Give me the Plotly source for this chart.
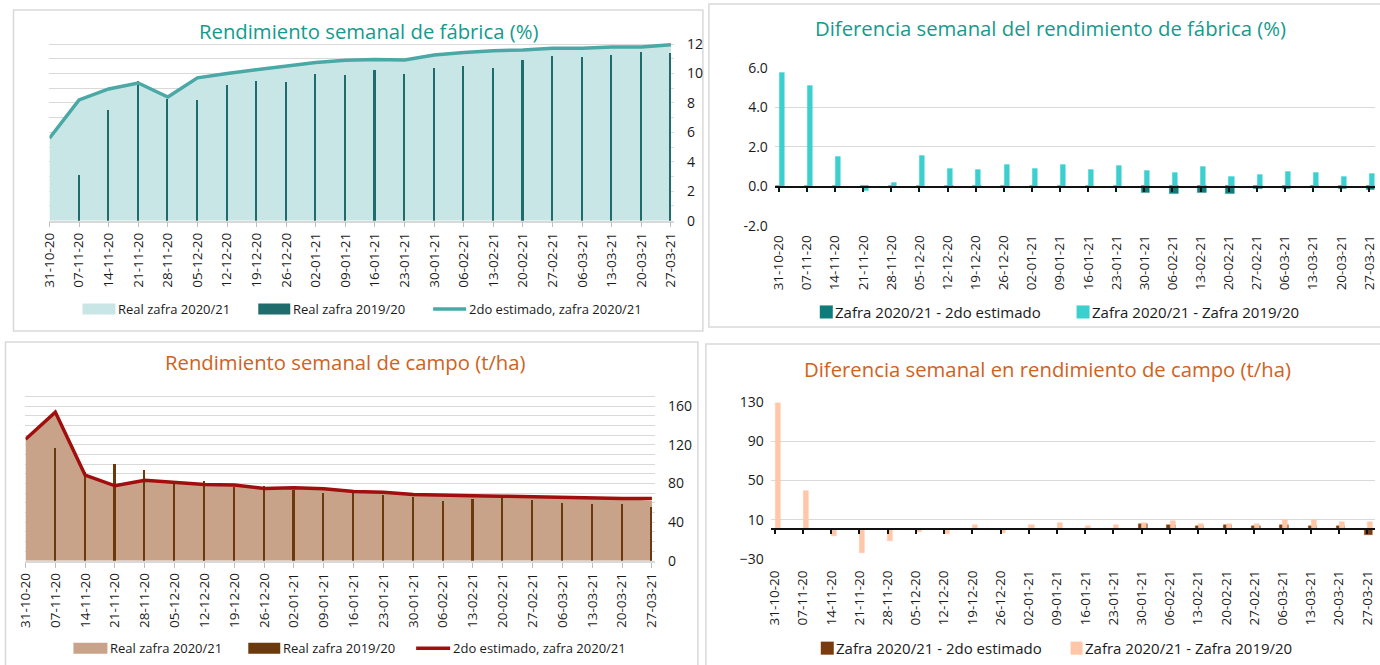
import plotly.graph_objects as go

W, H = 1380, 665

weeks = ['31-10-20', '07-11-20', '14-11-20', '21-11-20', '28-11-20', '05-12-20', '12-12-20',
         '19-12-20', '26-12-20', '02-01-21', '09-01-21', '16-01-21', '23-01-21', '30-01-21',
         '06-02-21', '13-02-21', '20-02-21', '27-02-21', '06-03-21', '13-03-21', '20-03-21',
         '27-03-21']

# Rendimiento semanal de fábrica (%)
fab_real_2021 = [5.6, 8.2, 8.95, 9.35, 8.4, 9.7, 10.0, 10.25, 10.45, 10.75, 10.9, 10.95, 10.92,
                 11.2, 11.35, 11.5, 11.55, 11.7, 11.7, 11.78, 11.78, 11.9]
fab_real_1920 = [None, 3.1, 7.5, 9.5, 8.25, 8.2, 9.2, 9.5, 9.45, 9.95, 9.9, 10.25, 10.0,
                 10.35, 10.5, 10.4, 10.95, 11.2, 11.1, 11.25, 11.45, 11.38]
fab_est_2021 = [5.6, 8.2, 8.95, 9.35, 8.4, 9.7, 10.0, 10.25, 10.45, 10.75, 10.9, 10.95, 10.92,
                11.25, 11.42, 11.55, 11.6, 11.72, 11.72, 11.8, 11.8, 11.95]

# Diferencia semanal del rendimiento de fábrica (%)
fab_dif_est = [0, 0, 0, 0, 0, 0, 0, 0, 0, 0, 0, 0, 0,
               -0.35, -0.42, -0.34, -0.39, -0.15, -0.15, -0.1, -0.15, -0.2]
fab_dif_1920 = [5.73, 5.10, 1.46, -0.25, 0.17, 1.51, 0.87, 0.8, 1.05, 0.88, 1.07, 0.83, 1.02,
                0.76, 0.68, 0.98, 0.46, 0.56, 0.71, 0.66, 0.46, 0.61]

# Rendimiento semanal de campo (t/ha)
campo_real_2021 = [125.8, 154, 88.7, 77.7, 83.5, 80.8, 79, 78.4, 74.9, 75.6, 74.6, 71.8, 71.1,
                   68.7, 67.7, 67.4, 67, 66.3, 65.6, 65.6, 64.6, 62.0]
campo_real_1920 = [None, 116.8, 92, 100.3, 93.8, 81, 82.5, 76.6, 77.7, 73.2, 70.4, 69.8, 68.7,
                   66.3, 62.2, 63.9, 65, 62.9, 59.5, 58.8, 58.8, 55.7]
campo_est_2021 = [125.8, 154, 88.7, 77.7, 83.5, 80.8, 79, 78.4, 74.9, 75.6, 74.6, 71.8, 71.1,
                  68.7, 67.7, 67.4, 67, 66.3, 65.6, 65.6, 64.6, 64.6]

# Diferencia semanal en rendimiento de campo (t/ha)
campo_dif_est = [0, 0, 0, 0, 0, 0, 0, 0, 0, 0, 0, 0, 0,
                 5, 4.5, 3.5, 4.5, 3.5, 4.5, 3.5, 3, -5.5]
campo_dif_1920 = [128.6, 38.8, -7, -24.3, -12, -2.5, -5, 4, -4, 4, 6, 3, 4,
                  6, 8, 5.3, 5, 5.3, 9, 9, 7.3, 7.3]

idx = list(range(len(weeks)))

FONT = "Open Sans"
TEAL_T = "#139b8d"
ORANGE_T = "#d0621c"
GRID = "#d9d9d9"
TXT = "#1a1a1a"


# map reference-picture pixels to page pixels (calibrated against the rendered output)
def FX(px):
    return (px - 9.5) / 0.990


def FY(py):
    return (py - 12.1) / 0.968


def clamp(v):
    return min(1.0, max(0.0, v))


def X(px):
    return FX(px) / W


def Y(py):
    return 1 - FY(py) / H


def xgeom(cat0, cat21, left, right):
    s0, s21 = FX(cat0), FX(cat21)
    sp = (s21 - s0) / 21
    L, R = max(0.0, FX(left)), min(float(W), FX(right))
    return [L / W, R / W], [(L - s0) / sp, (R - s0) / sp]


def ygeom(va, pa, vb, pb, bottom, top):
    fa, fb = FY(pa), FY(pb)
    per = (fa - fb) / (vb - va)  # px per unit (screen y grows downward)
    B, T = FY(bottom), FY(top)
    v_bot = va - (B - fa) / per
    v_top = va + (fa - T) / per
    return [clamp(1 - B / H), clamp(1 - T / H)], [v_bot, v_top]


d1x, r1x = xgeom(49, 671, 49, 674)
d1y, r1y = ygeom(0, 222, 12, 46, 222, 43.8)
d2x, r2x = xgeom(779, 1370, 775, 1380)
d2y, r2y = ygeom(-2, 227, 6, 70, 227, 70)
d3x, r3x = xgeom(25, 652, 25, 655)
d3y, r3y = ygeom(0, 561, 160, 407, 561, 387.75)
d4x, r4x = xgeom(775, 1368, 771, 1378)
d4y, r4y = ygeom(-30, 559, 130, 403, 559, 403)

fig = go.Figure()

# ---------- Panel 1 ----------
fig.add_trace(go.Scatter(x=idx, y=fab_real_2021, fill='tozeroy', mode='none',
                         fillcolor='#c8e6e5', xaxis='x', yaxis='y', hoverinfo='skip',
                         name='Real zafra 2020/21'))
fig.add_trace(go.Bar(x=idx, y=fab_real_1920, width=0.07, marker_color='#1e6c6c',
                     marker_line_width=0, xaxis='x', yaxis='y5', name='Real zafra 2019/20'))
fig.add_trace(go.Scatter(x=idx, y=fab_est_2021, mode='lines',
                         line=dict(color='#4aa8a6', width=3.5), xaxis='x', yaxis='y5',
                         name='2do estimado, zafra 2020/21'))

# ---------- Panel 2 ----------
fig.add_trace(go.Bar(x=idx, y=fab_dif_est, width=0.3, offset=-0.09, marker_color='#0e7c7b',
                     marker_line=dict(color='rgba(14,124,123,0.35)', width=1),
                     xaxis='x2', yaxis='y2', name='Zafra 2020/21 - 2do estimado'))
fig.add_trace(go.Bar(x=idx, y=fab_dif_1920, width=0.18, offset=0.02, marker_color='#3ccfd0',
                     marker_line=dict(color='rgba(60,207,208,0.35)', width=1),
                     xaxis='x2', yaxis='y2', name='Zafra 2020/21 - Zafra 2019/20'))
fig.add_trace(go.Scatter(x=[], y=[], xaxis='x5', yaxis='y2', showlegend=False))

# ---------- Panel 3 ----------
fig.add_trace(go.Scatter(x=idx, y=campo_real_2021, fill='tozeroy', mode='none',
                         fillcolor='#c8a38a', xaxis='x3', yaxis='y3', hoverinfo='skip',
                         name='Real zafra 2020/21'))
fig.add_trace(go.Bar(x=idx, y=campo_real_1920, width=0.07, marker_color='#6a3a0c',
                     marker_line_width=0, xaxis='x3', yaxis='y6', name='Real zafra 2019/20'))
fig.add_trace(go.Scatter(x=idx, y=campo_est_2021, mode='lines',
                         line=dict(color='#a00e0e', width=3.5), xaxis='x3', yaxis='y6',
                         name='2do estimado, zafra 2020/21'))

# ---------- Panel 4 ----------
fig.add_trace(go.Bar(x=idx, y=campo_dif_est, width=0.3, offset=-0.09, marker_color='#7b3b10',
                     marker_line=dict(color='rgba(123,59,16,0.35)', width=1),
                     xaxis='x4', yaxis='y4', name='Zafra 2020/21 - 2do estimado'))
fig.add_trace(go.Bar(x=idx, y=campo_dif_1920, width=0.18, offset=0.02, marker_color='#ffc6a8',
                     marker_line=dict(color='rgba(255,198,168,0.45)', width=1),
                     xaxis='x4', yaxis='y4', name='Zafra 2020/21 - Zafra 2019/20'))
fig.add_trace(go.Scatter(x=[], y=[], xaxis='x6', yaxis='y4', showlegend=False))

tickfont = dict(family=FONT, size=13.5, color=TXT)

xcommon = dict(tickmode='array', tickvals=idx, ticktext=weeks, tickangle=-90,
               tickfont=tickfont, showgrid=False, zeroline=False, fixedrange=True,
               ticklabeloverflow='allow')

fig.update_layout(
    width=W, height=H, margin=dict(l=0, r=0, t=0, b=0),
    paper_bgcolor='white', plot_bgcolor='rgba(0,0,0,0)',
    showlegend=False, barmode='overlay', bargap=0,
    font=dict(family=FONT, color=TXT),
    # panel 1
    xaxis=dict(**xcommon, domain=d1x, range=r1x, anchor='y',
               showline=True, linecolor=GRID, linewidth=1.5,
               ticks='outside', ticklen=5, tickcolor='#bfbfbf', tickwidth=1),
    yaxis=dict(domain=d1y, range=r1y, anchor='x', side='right',
               tickvals=[0, 2, 4, 6, 8, 10, 12], tickfont=dict(family=FONT, size=14, color=TXT),
               showgrid=True, gridcolor=GRID, gridwidth=1.3, zeroline=False,
               minor=dict(tickvals=[1, 3, 5, 7, 9, 11], showgrid=True, gridcolor=GRID, gridwidth=1.3),
               ticks='', ticklabelstandoff=12, fixedrange=True),
    yaxis5=dict(overlaying='y', matches='y', anchor='x', visible=False),
    # panel 2
    xaxis2=dict(**xcommon, domain=d2x, range=r2x, anchor='y2',
                showline=False, ticks='', ticklabelstandoff=6),
    yaxis2=dict(domain=d2y, range=r2y, anchor='x2',
                tickvals=[-2, 0, 2, 4, 6], ticktext=['-2.0', '0.0', '2.0', '4.0', '6.0'],
                tickfont=dict(family=FONT, size=14, color=TXT),
                showgrid=True, gridcolor=GRID, gridwidth=1.3, zeroline=False,
                ticks='', ticklabelstandoff=6, fixedrange=True),
    xaxis5=dict(overlaying='x2', matches='x2', anchor='free', position=clamp(Y(188)),
                tickvals=idx, showticklabels=False, ticks='outside', ticklen=4,
                tickcolor='#111111', tickwidth=1.5, showline=True, linecolor='#111111',
                linewidth=2, showgrid=False, zeroline=False, layer='above traces'),
    # panel 3
    xaxis3=dict(**xcommon, domain=d3x, range=r3x, anchor='y3',
                showline=True, linecolor=GRID, linewidth=1.5,
                ticks='outside', ticklen=5, tickcolor='#bfbfbf', tickwidth=1),
    yaxis3=dict(domain=d3y, range=r3y, anchor='x3', side='right',
                tickvals=[0, 40, 80, 120, 160], tickfont=dict(family=FONT, size=14, color=TXT),
                showgrid=True, gridcolor=GRID, gridwidth=1.3, zeroline=False,
                minor=dict(tickvals=[10, 20, 30, 50, 60, 70, 90, 100, 110, 130, 140, 150, 170, 180],
                           showgrid=True, gridcolor=GRID, gridwidth=1.3),
                ticks='', ticklabelstandoff=12, fixedrange=True),
    yaxis6=dict(overlaying='y3', matches='y3', anchor='x3', visible=False),
    # panel 4
    xaxis4=dict(**xcommon, domain=d4x, range=r4x, anchor='y4',
                showline=False, ticks='', ticklabelstandoff=8),
    yaxis4=dict(domain=d4y, range=r4y, anchor='x4',
                tickvals=[-30, 10, 50, 90, 130],
                tickfont=dict(family=FONT, size=14, color=TXT),
                showgrid=True, gridcolor=GRID, gridwidth=1.3, zeroline=False,
                ticks='', ticklabelstandoff=6, fixedrange=True),
    xaxis6=dict(overlaying='x4', matches='x4', anchor='free', position=clamp(Y(529.75)),
                tickvals=idx, showticklabels=False, ticks='outside', ticklen=4,
                tickcolor='#111111', tickwidth=1.5, showline=True, linecolor='#111111',
                linewidth=2, showgrid=False, zeroline=False, layer='above traces'),
)

shapes = []
annotations = []

# panel borders
for (x0, y0, x1, y1) in [(13, 12, 703, 332), (709, 6, 1392, 328),
                         (5, 343, 698, 680), (706, 345, 1392, 680)]:
    shapes.append(dict(type='rect', xref='paper', yref='paper', x0=X(x0), x1=X(x1),
                       y0=Y(y1), y1=Y(y0), line=dict(color=GRID, width=1.5),
                       fillcolor='rgba(0,0,0,0)', layer='below'))

# titles
for text, cx, cy, col in [("Rendimiento semanal de fábrica (%)", 368, 33, TEAL_T),
                          ("Diferencia semanal del rendimiento de fábrica (%)", 1051, 30, TEAL_T),
                          ("Rendimiento semanal de campo (t/ha)", 345, 363, ORANGE_T),
                          ("Diferencia semanal en rendimiento de campo (t/ha)", 1048, 370, ORANGE_T)]:
    annotations.append(dict(text=text, x=X(cx), y=Y(cy), xref='paper', yref='paper',
                            xanchor='center', yanchor='middle', showarrow=False,
                            font=dict(family=FONT, size=20.3, color=col)))


def legend_rect(x0, x1, cy, h, color, label, tx, size):
    shapes.append(dict(type='rect', xref='paper', yref='paper', x0=X(x0), x1=X(x1),
                       y0=Y(cy + h / 2), y1=Y(cy - h / 2), line=dict(width=0), fillcolor=color))
    annotations.append(dict(text=label, x=X(tx), y=Y(cy), xref='paper', yref='paper',
                            xanchor='left', yanchor='middle', showarrow=False,
                            font=dict(family=FONT, size=size, color=TXT)))


def legend_line(x0, x1, cy, color, label, tx, size):
    shapes.append(dict(type='line', xref='paper', yref='paper', x0=X(x0), x1=X(x1),
                       y0=Y(cy), y1=Y(cy), line=dict(color=color, width=3.5)))
    annotations.append(dict(text=label, x=X(tx), y=Y(cy), xref='paper', yref='paper',
                            xanchor='left', yanchor='middle', showarrow=False,
                            font=dict(family=FONT, size=size, color=TXT)))


legend_rect(82, 115, 310, 11, '#c8e6e5', 'Real zafra 2020/21', 116, 13)
legend_rect(258, 290, 310, 11, '#1e6c6c', 'Real zafra 2019/20', 291, 13)
legend_line(433, 466, 310, '#4aa8a6', '2do estimado, zafra 2020/21', 467, 13)

legend_rect(820, 833, 313, 13, '#0e7c7b', 'Zafra 2020/21 - 2do estimado', 833, 15)
legend_rect(1077, 1090, 313, 13, '#3ccfd0', 'Zafra 2020/21 - Zafra 2019/20', 1090, 15)

legend_rect(73, 107, 648, 11, '#c8a38a', 'Real zafra 2020/21', 108, 13)
legend_rect(248, 280, 648, 11, '#6a3a0c', 'Real zafra 2019/20', 281, 13)
legend_line(416, 450, 648, '#a00e0e', '2do estimado, zafra 2020/21', 451, 13)

legend_rect(821, 834, 648, 13, '#7b3b10', 'Zafra 2020/21 - 2do estimado', 834, 15)
legend_rect(1071, 1083, 648, 13, '#ffc6a8', 'Zafra 2020/21 - Zafra 2019/20', 1083, 15)

fig.update_layout(shapes=shapes, annotations=annotations)

fig.write_html("out.html", config={'displayModeBar': False},
               post_script="document.body.style.margin='0';document.body.style.overflow='hidden';")
